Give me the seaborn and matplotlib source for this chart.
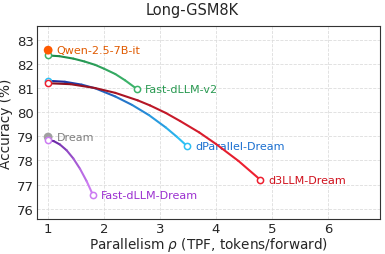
import numpy as np
import matplotlib
matplotlib.use("Agg")
import matplotlib.pyplot as plt
from matplotlib.collections import LineCollection
from matplotlib.colors import LinearSegmentedColormap
import seaborn as sns

# values
v2_x = [1.0, 1.2, 1.45, 1.65, 1.84, 2.0, 2.2, 2.375, 2.58]
v2_y = [82.35, 82.32, 82.22, 82.1, 81.96, 81.8, 81.58, 81.32, 80.97]

dpar_x = [1.0, 1.3, 1.6, 1.84, 2.2, 2.5, 2.8, 3.1, 3.3, 3.49]
dpar_y = [81.3, 81.26, 81.14, 80.99, 80.65, 80.3, 79.88, 79.37, 78.98, 78.58]

d3_x = [1.0, 1.4, 1.84, 2.2, 2.6, 2.82, 3.1, 3.36, 3.7, 4.0, 4.4, 4.79]
d3_y = [81.2, 81.16, 81.0, 80.8, 80.49, 80.28, 79.97, 79.63, 79.16, 78.68, 77.98, 77.2]

fdream_x = [1.0, 1.1, 1.21, 1.33, 1.45, 1.57, 1.69, 1.8]
fdream_y = [78.85, 78.8, 78.66, 78.42, 78.08, 77.65, 77.13, 76.57]

qwen_x, qwen_y = 1.0, 82.57
dream_x, dream_y = 1.0, 78.97

sns.set_theme(style="whitegrid")
plt.rcParams["font.family"] = ["DejaVu Sans"]

fig = plt.figure(figsize=(3.85, 2.55), dpi=100)
ax = fig.add_axes([0.096, 0.137, 0.891, 0.757])

curves = [
    (v2_x, v2_y, "#1b8a48", "#3cb36a", "#2a9a52", "Fast-dLLM-v2"),
    (dpar_x, dpar_y, "#1c2a9e", "#2cc0f4", "#1a6fd0", "dParallel-Dream"),
    (d3_x, d3_y, "#8e1020", "#ee2030", "#d0101c", "d3LLM-Dream"),
    (fdream_x, fdream_y, "#5a1a9a", "#cc7cf2", "#9b30d0", "Fast-dLLM-Dream"),
]

for xs, ys, c0, c1, lc, name in curves:
    pts = np.column_stack([xs, ys]).reshape(-1, 1, 2)
    segs = np.concatenate([pts[:-1], pts[1:]], axis=1)
    cmap = LinearSegmentedColormap.from_list(name, [c0, c1])
    cols = cmap(np.linspace(0, 1, len(segs)))
    ax.add_collection(LineCollection(segs, colors=cols, linewidth=1.5,
                                     capstyle="round", joinstyle="round", zorder=3))
    sns.scatterplot(x=[xs[0], xs[-1]], y=[ys[0], ys[-1]], ax=ax, s=20,
                    facecolor="white", edgecolor=c1, linewidth=1.1, zorder=4)
    ax.annotate(name, (xs[-1], ys[-1]), xytext=(6, 0), textcoords="offset points",
                va="center", ha="left", fontsize=8, color=lc)

sns.scatterplot(x=[qwen_x], y=[qwen_y], ax=ax, s=40, color="#ff5a00",
                edgecolor="none", zorder=5)
ax.annotate("Qwen-2.5-7B-it", (qwen_x, qwen_y), xytext=(6, 0),
            textcoords="offset points", va="center", ha="left",
            fontsize=8, color="#e05a00")
sns.scatterplot(x=[dream_x], y=[dream_y], ax=ax, s=40, color="#a0a0a0",
                edgecolor="none", zorder=2)
ax.annotate("Dream", (dream_x, dream_y), xytext=(6, 0),
            textcoords="offset points", va="center", ha="left",
            fontsize=8, color="#808080")

ax.set_xlim(0.8, 6.93)
ax.set_ylim(75.57, 83.57)
ax.set_xticks([1, 2, 3, 4, 5, 6])
ax.set_yticks([76, 77, 78, 79, 80, 81, 82, 83])
ax.tick_params(labelsize=9.5, pad=2, length=0)
ax.grid(True, linestyle="--", linewidth=0.6, color="#dddddd")
for sp in ax.spines.values():
    sp.set_color("#333333")
    sp.set_linewidth(0.8)
ax.set_xlabel(r"Parallelism $\rho$ (TPF, tokens/forward)", fontsize=9.8, labelpad=0)
ax.set_ylabel("Accuracy (%)", fontsize=9.8, labelpad=3)
fig.suptitle("Long-GSM8K", fontsize=10.5, x=0.5, y=0.99)

fig.savefig("out.png", dpi=100)
